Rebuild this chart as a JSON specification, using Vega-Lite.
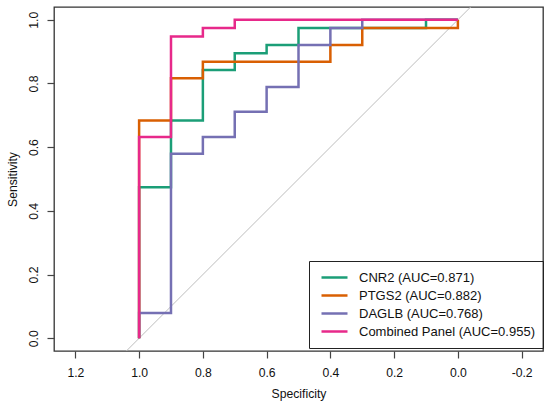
{
  "$schema": "https://vega.github.io/schema/vega-lite/v6.json",
  "autosize": "none",
  "width": 489,
  "height": 344,
  "padding": {"left": 54, "top": 7, "right": 7, "bottom": 56},
  "background": "white",
  "config": {
    "view": {"stroke": "#333", "strokeWidth": 1.3},
    "font": "Liberation Sans",
    "axis": {
      "domain": false,
      "grid": false,
      "tickSize": 7,
      "tickColor": "#444",
      "tickWidth": 1.2,
      "labelFontSize": 12.2,
      "labelColor": "#111",
      "titleFontSize": 12.2,
      "titleFontWeight": "normal",
      "titleColor": "#111"
    },
    "legend": {
      "orient": "none",
      "legendX": 255,
      "legendY": 254,
      "strokeColor": "#222",
      "padding": 8,
      "labelFontSize": 13,
      "labelColor": "#111",
      "labelOffset": 10,
      "labelLimit": 400,
      "symbolType": "stroke",
      "symbolSize": 676,
      "symbolStrokeWidth": 3,
      "symbolOffset": 3,
      "clipHeight": 17,
      "rowPadding": 1,
      "title": null
    }
  },
  "datasets": {
    "roc": [
      {"curve": "CNR2 (AUC=0.871)", "i": 1, "spec": 1.0, "sens": 0.0},
      {"curve": "CNR2 (AUC=0.871)", "i": 2, "spec": 1.0, "sens": 0.474},
      {"curve": "CNR2 (AUC=0.871)", "i": 3, "spec": 0.9, "sens": 0.474},
      {"curve": "CNR2 (AUC=0.871)", "i": 4, "spec": 0.9, "sens": 0.684},
      {"curve": "CNR2 (AUC=0.871)", "i": 5, "spec": 0.8, "sens": 0.684},
      {"curve": "CNR2 (AUC=0.871)", "i": 6, "spec": 0.8, "sens": 0.842},
      {"curve": "CNR2 (AUC=0.871)", "i": 7, "spec": 0.7, "sens": 0.842},
      {"curve": "CNR2 (AUC=0.871)", "i": 8, "spec": 0.7, "sens": 0.895},
      {"curve": "CNR2 (AUC=0.871)", "i": 9, "spec": 0.6, "sens": 0.895},
      {"curve": "CNR2 (AUC=0.871)", "i": 10, "spec": 0.6, "sens": 0.921},
      {"curve": "CNR2 (AUC=0.871)", "i": 11, "spec": 0.5, "sens": 0.921},
      {"curve": "CNR2 (AUC=0.871)", "i": 12, "spec": 0.5, "sens": 0.974},
      {"curve": "CNR2 (AUC=0.871)", "i": 13, "spec": 0.1, "sens": 0.974},
      {"curve": "CNR2 (AUC=0.871)", "i": 14, "spec": 0.1, "sens": 1.0},
      {"curve": "CNR2 (AUC=0.871)", "i": 15, "spec": 0.0, "sens": 1.0},
      {"curve": "PTGS2 (AUC=0.882)", "i": 1, "spec": 1.0, "sens": 0.0},
      {"curve": "PTGS2 (AUC=0.882)", "i": 2, "spec": 1.0, "sens": 0.684},
      {"curve": "PTGS2 (AUC=0.882)", "i": 3, "spec": 0.9, "sens": 0.684},
      {"curve": "PTGS2 (AUC=0.882)", "i": 4, "spec": 0.9, "sens": 0.816},
      {"curve": "PTGS2 (AUC=0.882)", "i": 5, "spec": 0.8, "sens": 0.816},
      {"curve": "PTGS2 (AUC=0.882)", "i": 6, "spec": 0.8, "sens": 0.868},
      {"curve": "PTGS2 (AUC=0.882)", "i": 7, "spec": 0.4, "sens": 0.868},
      {"curve": "PTGS2 (AUC=0.882)", "i": 8, "spec": 0.4, "sens": 0.921},
      {"curve": "PTGS2 (AUC=0.882)", "i": 9, "spec": 0.3, "sens": 0.921},
      {"curve": "PTGS2 (AUC=0.882)", "i": 10, "spec": 0.3, "sens": 0.974},
      {"curve": "PTGS2 (AUC=0.882)", "i": 11, "spec": 0.0, "sens": 0.974},
      {"curve": "PTGS2 (AUC=0.882)", "i": 12, "spec": 0.0, "sens": 1.0},
      {"curve": "DAGLB (AUC=0.768)", "i": 1, "spec": 1.0, "sens": 0.0},
      {"curve": "DAGLB (AUC=0.768)", "i": 2, "spec": 1.0, "sens": 0.079},
      {"curve": "DAGLB (AUC=0.768)", "i": 3, "spec": 0.9, "sens": 0.079},
      {"curve": "DAGLB (AUC=0.768)", "i": 4, "spec": 0.9, "sens": 0.579},
      {"curve": "DAGLB (AUC=0.768)", "i": 5, "spec": 0.8, "sens": 0.579},
      {"curve": "DAGLB (AUC=0.768)", "i": 6, "spec": 0.8, "sens": 0.632},
      {"curve": "DAGLB (AUC=0.768)", "i": 7, "spec": 0.7, "sens": 0.632},
      {"curve": "DAGLB (AUC=0.768)", "i": 8, "spec": 0.7, "sens": 0.711},
      {"curve": "DAGLB (AUC=0.768)", "i": 9, "spec": 0.6, "sens": 0.711},
      {"curve": "DAGLB (AUC=0.768)", "i": 10, "spec": 0.6, "sens": 0.789},
      {"curve": "DAGLB (AUC=0.768)", "i": 11, "spec": 0.5, "sens": 0.789},
      {"curve": "DAGLB (AUC=0.768)", "i": 12, "spec": 0.5, "sens": 0.921},
      {"curve": "DAGLB (AUC=0.768)", "i": 13, "spec": 0.4, "sens": 0.921},
      {"curve": "DAGLB (AUC=0.768)", "i": 14, "spec": 0.4, "sens": 0.974},
      {"curve": "DAGLB (AUC=0.768)", "i": 15, "spec": 0.3, "sens": 0.974},
      {"curve": "DAGLB (AUC=0.768)", "i": 16, "spec": 0.3, "sens": 1.0},
      {"curve": "DAGLB (AUC=0.768)", "i": 17, "spec": 0.0, "sens": 1.0},
      {"curve": "Combined Panel (AUC=0.955)", "i": 1, "spec": 1.0, "sens": 0.0},
      {"curve": "Combined Panel (AUC=0.955)", "i": 2, "spec": 1.0, "sens": 0.632},
      {"curve": "Combined Panel (AUC=0.955)", "i": 3, "spec": 0.9, "sens": 0.632},
      {"curve": "Combined Panel (AUC=0.955)", "i": 4, "spec": 0.9, "sens": 0.947},
      {"curve": "Combined Panel (AUC=0.955)", "i": 5, "spec": 0.8, "sens": 0.947},
      {"curve": "Combined Panel (AUC=0.955)", "i": 6, "spec": 0.8, "sens": 0.974},
      {"curve": "Combined Panel (AUC=0.955)", "i": 7, "spec": 0.7, "sens": 0.974},
      {"curve": "Combined Panel (AUC=0.955)", "i": 8, "spec": 0.7, "sens": 1.0},
      {"curve": "Combined Panel (AUC=0.955)", "i": 9, "spec": 0.0, "sens": 1.0}
    ],
    "diag": [
      {"spec": 1.2, "sens": -0.2},
      {"spec": -0.2, "sens": 1.2}
    ]
  },
  "layer": [
    {
      "data": {"name": "diag"},
      "mark": {"type": "line", "color": "#bdbdbd", "strokeWidth": 1, "clip": true},
      "encoding": {
        "x": {"field": "spec", "type": "quantitative"},
        "y": {"field": "sens", "type": "quantitative"}
      }
    },
    {
      "data": {"name": "roc"},
      "mark": {"type": "line", "interpolate": "linear", "strokeCap": "butt", "strokeJoin": "miter"},
      "encoding": {
        "x": {
          "field": "spec",
          "type": "quantitative",
          "title": "Specificity",
          "scale": {"domain": [1.267, -0.267], "nice": false, "zero": false},
          "axis": {
            "values": [1.2, 1.0, 0.8, 0.6, 0.4, 0.2, 0.0, -0.2],
            "labelExpr": "datum.value < 0 ? '-' + format(-datum.value, '.1f') : format(datum.value, '.1f')",
            "labelPadding": 8,
            "titlePadding": 9
          }
        },
        "y": {
          "field": "sens",
          "type": "quantitative",
          "title": "Sensitivity",
          "scale": {"domain": [-0.04, 1.04], "nice": false, "zero": false},
          "axis": {
            "values": [0, 0.2, 0.4, 0.6, 0.8, 1.0],
            "format": ".1f",
            "labelAngle": -90,
            "labelAlign": "center",
            "labelBaseline": "bottom",
            "labelPadding": 7,
            "titlePadding": 8
          }
        },
        "order": {"field": "i", "type": "quantitative"},
        "color": {
          "field": "curve",
          "type": "nominal",
          "scale": {
            "domain": ["CNR2 (AUC=0.871)", "PTGS2 (AUC=0.882)", "DAGLB (AUC=0.768)", "Combined Panel (AUC=0.955)"],
            "range": ["#1B9E77", "#D95F02", "#7570B3", "#E7298A"]
          }
        },
        "strokeWidth": {
          "field": "curve",
          "type": "nominal",
          "scale": {
            "domain": ["CNR2 (AUC=0.871)", "PTGS2 (AUC=0.882)", "DAGLB (AUC=0.768)", "Combined Panel (AUC=0.955)"],
            "range": [2.5, 2.5, 2.5, 3.6]
          }
        }
      }
    }
  ]
}
